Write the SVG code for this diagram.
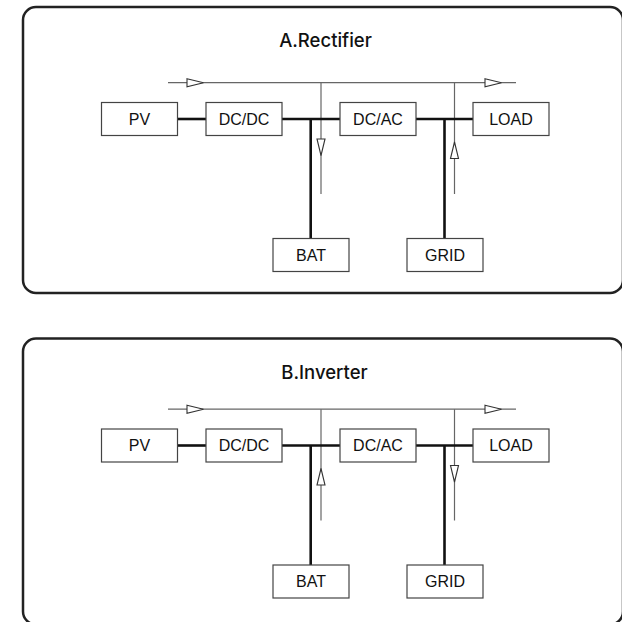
<svg xmlns="http://www.w3.org/2000/svg" xmlns:xlink="http://www.w3.org/1999/xlink" width="622" height="622" viewBox="0 0 622 622">
<style>
.frame{fill:none;stroke:#222;stroke-width:2.5}
.box{fill:#fff;stroke:#444;stroke-width:1.2}
.lbl{font-family:"Liberation Sans",Arial,sans-serif;font-size:16px;fill:#111;text-anchor:middle}
.title{font-family:Inter,"Open Sans",sans-serif;font-weight:500;font-size:18.5px;fill:#111;text-anchor:middle}
.bus{fill:none;stroke:#111;stroke-width:2.6}
.flow{fill:none;stroke:#666;stroke-width:1.2}
.arr{fill:#fff;stroke:#333;stroke-width:1.1}
</style>
<defs>
<polygon id="tri" class="arr" points="0,-4 16.5,0 0,4"/>
</defs>
<rect class="frame" x="23" y="7" width="600" height="286" rx="13"/>
<rect class="frame" x="23" y="338.5" width="600" height="286" rx="13"/>
<text class="title" x="325.5" y="46.5">A.Rectifier</text>
<text class="title" x="324.5" y="378.5">B.Inverter</text>

<g id="connectors-a">
<line class="flow" x1="168" y1="82.7" x2="516" y2="82.7"/>
<line class="flow" x1="321" y1="82.7" x2="321" y2="194"/>
<line class="flow" x1="454.5" y1="82.7" x2="454.5" y2="194"/>
<use xlink:href="#tri" transform="translate(187,82.7)"/>
<use xlink:href="#tri" transform="translate(485,82.7)"/>
<use xlink:href="#tri" transform="translate(321,139) rotate(90)"/>
<use xlink:href="#tri" transform="translate(454.5,158.5) rotate(-90)"/>
<line class="bus" x1="177.5" y1="119" x2="206" y2="119"/>
<line class="bus" x1="282" y1="119" x2="340" y2="119"/>
<line class="bus" x1="416" y1="119" x2="473" y2="119"/>
<line class="bus" x1="310.7" y1="119" x2="310.7" y2="238.5"/>
<line class="bus" x1="444.5" y1="119" x2="444.5" y2="238.5"/>
</g>
<g id="a-pv"><rect class="box" x="101.5" y="102.5" width="76" height="33"/><text class="lbl" x="139.5" y="124.9">PV</text></g>
<g id="a-dcdc"><rect class="box" x="206" y="102.5" width="76" height="33"/><text class="lbl" x="244" y="124.9">DC/DC</text></g>
<g id="a-dcac"><rect class="box" x="340" y="102.5" width="76" height="33"/><text class="lbl" x="378" y="124.9">DC/AC</text></g>
<g id="a-load"><rect class="box" x="473" y="102.5" width="76" height="33"/><text class="lbl" x="511" y="124.9">LOAD</text></g>
<g id="a-bat"><rect class="box" x="273" y="238.5" width="76" height="33"/><text class="lbl" x="311" y="260.9">BAT</text></g>
<g id="a-grid"><rect class="box" x="407" y="238.5" width="76" height="33"/><text class="lbl" x="445" y="260.9">GRID</text></g>

<g transform="translate(0,326.5)">
<g id="connectors-b">
<line class="flow" x1="168" y1="82.7" x2="516" y2="82.7"/>
<line class="flow" x1="321" y1="82.7" x2="321" y2="194"/>
<line class="flow" x1="454.5" y1="82.7" x2="454.5" y2="194"/>
<use xlink:href="#tri" transform="translate(187,82.7)"/>
<use xlink:href="#tri" transform="translate(485,82.7)"/>
<use xlink:href="#tri" transform="translate(321,158.5) rotate(-90)"/>
<use xlink:href="#tri" transform="translate(454.5,139) rotate(90)"/>
<line class="bus" x1="177.5" y1="119" x2="206" y2="119"/>
<line class="bus" x1="282" y1="119" x2="340" y2="119"/>
<line class="bus" x1="416" y1="119" x2="473" y2="119"/>
<line class="bus" x1="310.7" y1="119" x2="310.7" y2="238.5"/>
<line class="bus" x1="444.5" y1="119" x2="444.5" y2="238.5"/>
</g>
<g id="b-pv"><rect class="box" x="101.5" y="102.5" width="76" height="33"/><text class="lbl" x="139.5" y="124.9">PV</text></g>
<g id="b-dcdc"><rect class="box" x="206" y="102.5" width="76" height="33"/><text class="lbl" x="244" y="124.9">DC/DC</text></g>
<g id="b-dcac"><rect class="box" x="340" y="102.5" width="76" height="33"/><text class="lbl" x="378" y="124.9">DC/AC</text></g>
<g id="b-load"><rect class="box" x="473" y="102.5" width="76" height="33"/><text class="lbl" x="511" y="124.9">LOAD</text></g>
<g id="b-bat"><rect class="box" x="273" y="238.5" width="76" height="33"/><text class="lbl" x="311" y="260.9">BAT</text></g>
<g id="b-grid"><rect class="box" x="407" y="238.5" width="76" height="33"/><text class="lbl" x="445" y="260.9">GRID</text></g>
</g>
</svg>
